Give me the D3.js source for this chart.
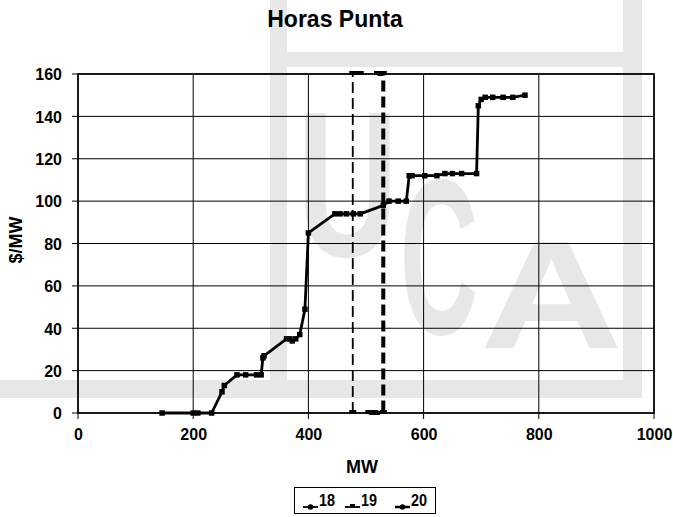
<!DOCTYPE html>
<html>
<head>
<meta charset="utf-8">
<script src="https://cdn.jsdelivr.net/npm/d3@7"></script>
<style>
  body { margin: 0; background: #fff; }
  svg { display: block; font-family: "Liberation Sans", Arial, sans-serif; }
</style>
</head>
<body>
<svg id="chart" width="673" height="517"></svg>
<script>
// supply curve (series 18), MW vs $/MW
var s18x = [146,200,208,232,250,254,276,291,310,318,321,323,362,368,372,378,385,394,400,446,455,466,478,490,530,540,556,570,575,580,602,623,637,650,666,692,695,700,707,720,738,755,776];
var s18y = [0,0,0,0,10,13,18,18,18,18,26,27,35,35,34,35,37,49,85,94,94,94,94,94,98,100,100,100,112,112,112,112,113,113,113,113,145,148,149,149,149,149,150];
// demand lines (series 19 and 20)
var s19x = [477,477,482,490];
var s19y = [0,160,160,160];
var s20x = [505,515,530,530,520];
var s20y = [0,0,0,160,160];
var seriesNames = ["18","19","20"];
var xTicks = [0,200,400,600,800,1000];
var yTicks = [0,20,40,60,80,100,120,140,160];

var svg = d3.select("#chart");
var margin = {top:74, right:19, bottom:104, left:78},
	width = 673 - margin.left - margin.right,
	height = 517 - margin.top - margin.bottom;

/*************** watermark (light grey, behind everything) ***************/
var wm = svg.append("g").attr("fill","#e7e7e7");
wm.append("rect").attr("x",270).attr("y",0).attr("width",17).attr("height",398);
wm.append("rect").attr("x",623).attr("y",0).attr("width",19).attr("height",398);
wm.append("rect").attr("x",287).attr("y",52).attr("width",336).attr("height",15);
wm.append("rect").attr("x",0).attr("y",380).attr("width",642).attr("height",18);
function fitLetter(ch,x0,y0,x1,y1){
	var t = wm.append("text").attr("font-weight","bold").attr("font-size",100).text(ch);
	var b = t.node().getBBox();
	var sx = (x1-x0)/b.width, sy = (y1-y0)/b.height;
	t.attr("transform","translate("+x0+","+y0+") scale("+sx+","+sy+") translate("+(-b.x)+","+(-b.y)+")");
}
fitLetter("U",297,67,398,300);
fitLetter("C",400,133,478,380);
fitLetter("A",480,207,623,380);

var x = d3.scaleLinear().domain([0,1000]).range([0,width]);
var y = d3.scaleLinear().domain([0,160]).range([height,0]);

var g = svg.append("g").attr("transform","translate("+margin.left+","+margin.top+")");

// grid
g.append("g").selectAll("line").data(yTicks).enter().append("line")
	.attr("x1",-6).attr("x2",width)
	.attr("y1",function(d){return y(d);}).attr("y2",function(d){return y(d);})
	.attr("stroke","#000").attr("stroke-width",1);
g.append("g").selectAll("line").data(xTicks).enter().append("line")
	.attr("y1",0).attr("y2",height+6)
	.attr("x1",function(d){return x(d);}).attr("x2",function(d){return x(d);})
	.attr("stroke","#000").attr("stroke-width",1);
g.append("rect").attr("width",width).attr("height",height)
	.attr("fill","none").attr("stroke","#000").attr("stroke-width",1.6);

// axes labels via d3 axes (lines hidden, text only)
var yAxis = g.append("g").call(d3.axisLeft(y).tickValues(yTicks).tickFormat(d3.format("d")).tickSize(0).tickPadding(16));
var xAxis = g.append("g").attr("transform","translate(0,"+height+")")
	.call(d3.axisBottom(x).tickValues(xTicks).tickFormat(d3.format("d")).tickSize(0).tickPadding(16));
[yAxis,xAxis].forEach(function(a){
	a.select(".domain").remove();
	a.selectAll("text").attr("font-size",16).attr("font-weight","bold")
		.attr("font-family","Liberation Sans, Arial, sans-serif").attr("fill","#000");
});
yAxis.selectAll("text").attr("dy","0.36em");

// titles
svg.append("text").attr("x",335).attr("y",27).attr("text-anchor","middle")
	.attr("font-size",23).attr("font-weight","bold").text("Horas Punta");
svg.append("text").attr("x",362).attr("y",473).attr("text-anchor","middle")
	.attr("font-size",18).attr("font-weight","bold").text("MW");
svg.append("text").attr("transform","translate(22,240) rotate(-90)").attr("text-anchor","middle")
	.attr("font-size",18).attr("font-weight","bold").text("$/MW");

/*************** series ***************/
var line = d3.line().x(function(d){return x(d[0]);}).y(function(d){return y(d[1]);});
var d18 = d3.zip(s18x,s18y), d19 = d3.zip(s19x,s19y), d20 = d3.zip(s20x,s20y);

g.append("path").datum(d19).attr("d",line).attr("fill","none")
	.attr("stroke","#000").attr("stroke-width",1.8).attr("stroke-dasharray","11,5");
g.append("path").datum(d20).attr("d",line).attr("fill","none")
	.attr("stroke","#000").attr("stroke-width",4).attr("stroke-dasharray","11,5");
g.append("path").datum(d18).attr("d",line).attr("fill","none")
	.attr("stroke","#000").attr("stroke-width",2.8).attr("stroke-linejoin","round");

var marker = d3.symbol().type(d3.symbolSquare).size(30);
g.append("g").selectAll("path").data(d18).enter().append("path")
	.attr("d",marker).attr("transform",function(d){return "translate("+x(d[0])+","+y(d[1])+")";})
	.attr("fill","#000");
g.append("g").selectAll("rect").data(d19).enter().append("rect")
	.attr("x",function(d){return x(d[0])-3.5;}).attr("y",function(d){return y(d[1])-3;})
	.attr("width",7).attr("height",4).attr("fill","#000");
g.append("g").selectAll("rect").data(d20).enter().append("rect")
	.attr("x",function(d){return x(d[0])-3.5;}).attr("y",function(d){return y(d[1])-3;})
	.attr("width",7).attr("height",4).attr("fill","#000");

/*************** legend ***************/
var leg = svg.append("g");
leg.append("rect").attr("x",294.5).attr("y",487.5).attr("width",141).attr("height",26)
	.attr("fill","#fff").attr("stroke","#000").attr("stroke-width",1);
var legX = [303,345,395];
seriesNames.forEach(function(name,i){
	var lx = legX[i];
	leg.append("line").attr("x1",lx).attr("x2",lx+15).attr("y1",507).attr("y2",507)
		.attr("stroke","#000").attr("stroke-width",i==2 ? 2.5 : 1.8);
	if(i==1){
		leg.append("rect").attr("x",lx+5).attr("y",504).attr("width",5).attr("height",3).attr("fill","#000");
	}else{
		leg.append("circle").attr("cx",lx+7.5).attr("cy",507).attr("r",2.8).attr("fill","#000");
	}
	leg.append("text").attr("x",lx+16).attr("y",506).attr("font-size",16).attr("font-weight","bold")
		.attr("textLength",16).attr("lengthAdjust","spacingAndGlyphs").text(name);
});
</script>
</body>
</html>
